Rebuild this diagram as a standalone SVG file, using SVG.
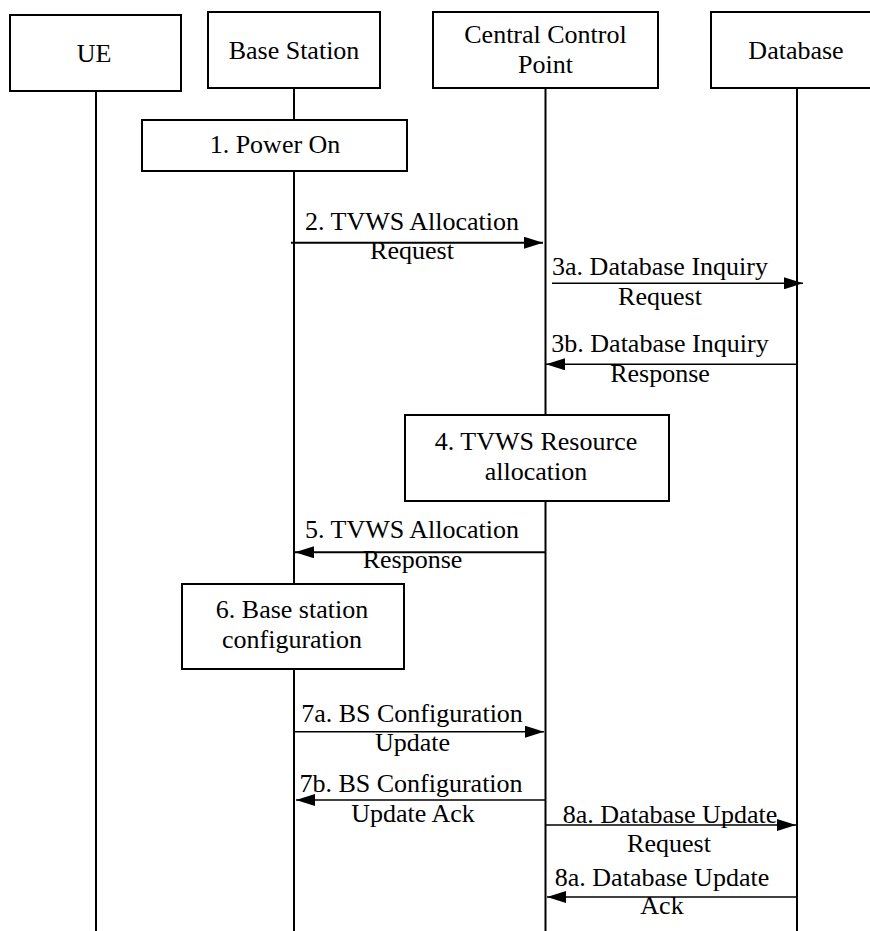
<svg xmlns="http://www.w3.org/2000/svg" width="870" height="931" viewBox="0 0 870 931">
  <style>
    text { font-family: "Liberation Serif", "Times New Roman", serif; font-size: 26px; fill: #000; text-anchor: middle; }
    .box { fill: #fff; stroke: #000; stroke-width: 2; }
    .life { stroke: #000; stroke-width: 2; fill: none; }
    .msg { stroke: #000; stroke-width: 1.4; fill: none; }
    .msg.bold { stroke-width: 2; }
  </style>
  <defs>
    <marker id="arrow" markerUnits="userSpaceOnUse" markerWidth="20" markerHeight="12" refX="19" refY="6" orient="auto">
      <path d="M0,0 L19,6 L0,12 Z" fill="#000"/>
    </marker>
  </defs>

  <!-- lifelines -->
  <g id="lifelines">
    <line class="life" x1="96" y1="91" x2="96" y2="931"/>
    <line class="life" x1="294" y1="88" x2="294" y2="931"/>
    <line class="life" x1="545.5" y1="88" x2="545.5" y2="931"/>
    <line class="life" x1="797" y1="88" x2="797" y2="931"/>
  </g>

  <!-- participants -->
  <g id="ue">
    <rect class="box" x="10" y="15" width="171" height="76"/>
    <text x="94" y="62">UE</text>
  </g>
  <g id="base-station">
    <rect class="box" x="208" y="12" width="172" height="76"/>
    <text x="294" y="59">Base Station</text>
  </g>
  <g id="central-control-point">
    <rect class="box" x="433" y="12" width="225" height="76"/>
    <text x="545.5" y="43">Central Control</text>
    <text x="545.5" y="73">Point</text>
  </g>
  <g id="database">
    <rect class="box" x="711" y="12" width="170" height="76"/>
    <text x="796" y="59">Database</text>
  </g>

  <!-- processing steps -->
  <g id="step1-power-on">
    <rect class="box" x="142" y="120" width="265" height="51"/>
    <text x="275" y="153">1. Power On</text>
  </g>
  <g id="step4-resource-allocation">
    <rect class="box" x="405" y="415" width="264" height="86"/>
    <text x="536" y="450">4. TVWS Resource</text>
    <text x="536" y="480">allocation</text>
  </g>
  <g id="step6-bs-configuration">
    <rect class="box" x="182" y="584" width="222" height="85"/>
    <text x="292" y="618">6. Base station</text>
    <text x="292" y="648">configuration</text>
  </g>

  <!-- messages -->
  <g id="connectors">
    <line class="msg bold" x1="291" y1="242.7" x2="543" y2="242.7" marker-end="url(#arrow)"/>
    <line class="msg" x1="552" y1="283.3" x2="803" y2="283.3" marker-end="url(#arrow)"/>
    <line class="msg" x1="797" y1="364.3" x2="546" y2="364.3" marker-end="url(#arrow)"/>
    <line class="msg bold" x1="545.5" y1="552.3" x2="295" y2="552.3" marker-end="url(#arrow)"/>
    <line class="msg" x1="294" y1="731.7" x2="544" y2="731.7" marker-end="url(#arrow)"/>
    <line class="msg" x1="545.5" y1="800" x2="296" y2="800" marker-end="url(#arrow)"/>
    <line class="msg" x1="545.5" y1="825" x2="796" y2="825" marker-end="url(#arrow)"/>
    <line class="msg" x1="797" y1="897" x2="547" y2="897" marker-end="url(#arrow)"/>
  </g>

  <!-- message labels -->
  <g id="labels">
    <text x="412" y="230">2. TVWS Allocation</text>
    <text x="412" y="259">Request</text>
    <text x="660" y="275">3a. Database Inquiry</text>
    <text x="660" y="305">Request</text>
    <text x="660" y="351.5">3b. Database Inquiry</text>
    <text x="660" y="381.5">Response</text>
    <text x="412" y="538">5. TVWS Allocation</text>
    <text x="412.5" y="568">Response</text>
    <text x="412" y="721.5">7a. BS Configuration</text>
    <text x="412.5" y="751">Update</text>
    <text x="411" y="791.5">7b. BS Configuration</text>
    <text x="413" y="821.5">Update Ack</text>
    <text x="670" y="823">8a. Database Update</text>
    <text x="669" y="851.5">Request</text>
    <text x="662" y="886">8a. Database Update</text>
    <text x="662" y="914">Ack</text>
  </g>
</svg>
